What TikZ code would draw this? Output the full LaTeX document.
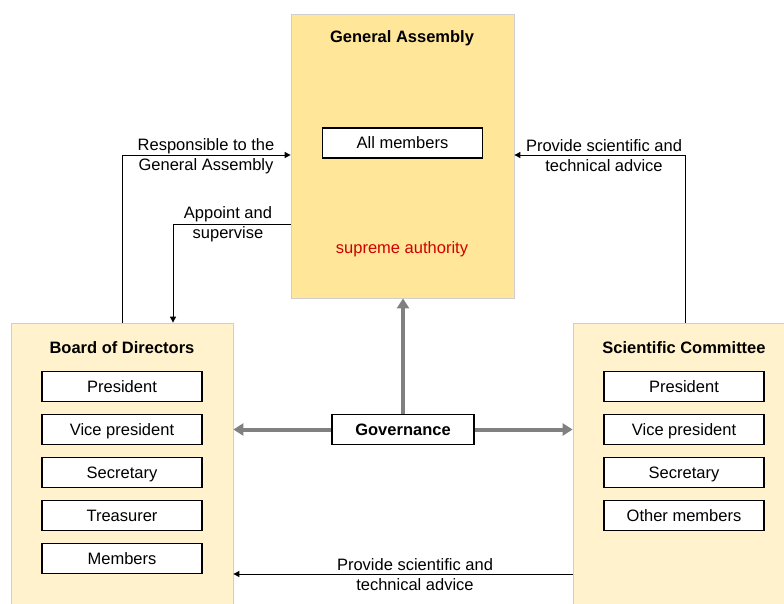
\documentclass[tikz,border=0pt]{standalone}
\usepackage{fontspec}
\setmainfont{Liberation Sans}
\usetikzlibrary{arrows.meta,positioning,calc}
\definecolor{gaYellow}{HTML}{FFE699}
\definecolor{paleYellow}{HTML}{FFF2CC}
\definecolor{edgeGrey}{HTML}{D0CECE}
\definecolor{govGrey}{HTML}{808080}
\definecolor{authRed}{HTML}{D00000}
\begin{document}
\begin{tikzpicture}[x=1pt,y=-1pt,every node/.style={font=\fontsize{16.5}{20}\selectfont},
 body/.style={draw=edgeGrey,line width=0.8pt,inner sep=0pt},
 member/.style={draw,line width=1.2pt,fill=white,minimum width=160pt,minimum height=30pt,inner sep=0pt,
  text height=11pt,text depth=0pt},
 head/.style={font=\fontsize{16.5}{20}\selectfont\bfseries},
 link/.style={line width=1pt,-{Triangle[length=6pt,width=6pt]}},
 govlink/.style={govGrey,line width=4pt,-{Triangle[length=10pt,width=12pt]}},
 note/.style={align=center,inner sep=0pt}]
\useasboundingbox (0,0) rectangle (784,603);
% main bodies
\node[body,fill=gaYellow,minimum width=223pt,minimum height=284pt] (ga) at (402.5,156) {};
\node[body,fill=paleYellow,minimum width=222pt,minimum height=282pt] (bod) at (122,464) {};
\node[body,fill=paleYellow,minimum width=212pt,minimum height=282pt] (sc) at (679,464) {};
\node[head] at (402,38) {General Assembly};
\node[member] (all) at (402.5,143) {All members};
\node[text=authRed] at (402,249) {supreme authority};
% board of directors
\node[head] at (122,348) {Board of Directors};
\node[member] (b1) at (122,386.5) {President};
\node[member,below=11.8pt of b1] (b2) {Vice president};
\node[member,below=11.8pt of b2] (b3) {Secretary};
\node[member,below=11.8pt of b3] (b4) {Treasurer};
\node[member,below=11.8pt of b4] (b5) {Members};
% scientific committee
\node[head] at (684,348) {Scientific Committee};
\node[member] (s1) at (684,386.5) {President};
\node[member,below=11.8pt of s1] (s2) {Vice president};
\node[member,below=11.8pt of s2] (s3) {Secretary};
\node[member,below=11.8pt of s3] (s4) {Other members};
% governance
\node[member,minimum width=142pt,head] (gov) at (403,429.5) {Governance};
\draw[govlink] (gov.north) -- (gov.north |- ga.south);
\draw[govlink] (gov.west) -- (gov.west -| bod.east);
\draw[govlink] (gov.east) -- (gov.east -| sc.west);
% relations
\coordinate (r1) at (122,155);
\coordinate (r2) at (173,224);
\coordinate (r3) at (685,155);
\coordinate (r4) at (400,574);
\draw[link] (r1 |- bod.north) -- (r1) -- (r1 -| ga.west);
\draw[link] (r2 -| ga.west) -- (r2) -- (r2 |- bod.north);
\draw[link] (r3 |- sc.north) -- (r3) -- (r3 -| ga.east);
\draw[link] (r4 -| sc.west) -- (r4 -| bod.east);
\node[note] at (206,156) {Responsible to the\\General Assembly};
\node[note] at (228,224) {Appoint and\\supervise};
\node[note] at (604,156) {Provide scientific and\\technical advice};
\node[note] at (415,575) {Provide scientific and\\technical advice};
\end{tikzpicture}
\end{document}
